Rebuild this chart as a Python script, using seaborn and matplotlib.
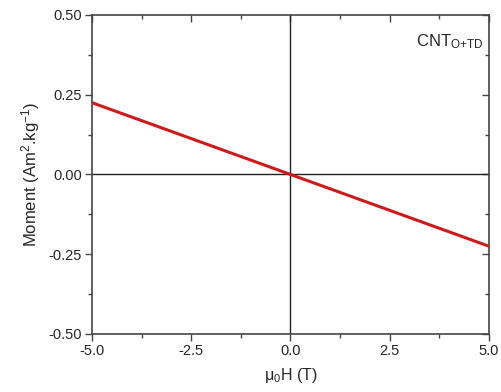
import matplotlib
matplotlib.use("Agg")
import matplotlib.pyplot as plt
import seaborn as sns
import pandas as pd
from matplotlib.ticker import MultipleLocator

# field (T) and moment (Am2/kg)
field = [-5.0, -2.5, 0.0, 2.5, 5.0]
moment = [0.225, 0.1125, 0.0, -0.1125, -0.225]

sns.set_style("ticks")
plt.rcParams['font.family'] = ['Liberation Sans', 'DejaVu Sans']
plt.rcParams['mathtext.fontset'] = 'custom'
plt.rcParams['mathtext.rm'] = 'Liberation Sans'
plt.rcParams['mathtext.it'] = 'Liberation Sans'
plt.rcParams['mathtext.default'] = 'regular'

df = pd.DataFrame({'H': field, 'M': moment})

fig = plt.figure(figsize=(5.02, 3.92), dpi=100)
ax = fig.add_axes([0.183, 0.148, 0.791, 0.814])

ax.axhline(0, color='#222222', lw=1.0, zorder=1)
ax.axvline(0, color='#222222', lw=1.0, zorder=1)
sns.lineplot(data=df, x='H', y='M', ax=ax, color='#d01a1a', lw=2.2, zorder=3)

ax.set_xlim(-5, 5)
ax.set_ylim(-0.5, 0.5)
ax.xaxis.set_major_locator(MultipleLocator(2.5))
ax.xaxis.set_minor_locator(MultipleLocator(1.25))
ax.yaxis.set_major_locator(MultipleLocator(0.25))
ax.yaxis.set_minor_locator(MultipleLocator(0.125))
ax.set_xticks(ax.get_xticks())
ax.set_xticklabels([f"{v:.1f}" for v in ax.get_xticks()])
ax.set_yticks(ax.get_yticks())
ax.set_yticklabels([f"{v:.2f}" for v in ax.get_yticks()])
ax.set_xlim(-5, 5)
ax.set_ylim(-0.5, 0.5)

for s in ax.spines.values():
    s.set_color('#444444')
    s.set_linewidth(1.2)

ax.tick_params(which='major', direction='out', length=5, width=1.0,
               color='#444444', labelsize=10.5, pad=2)
ax.tick_params(which='minor', direction='out', length=3, width=1.0, color='#444444')

# inward ticks on top and right
top = ax.secondary_xaxis('top')
top.xaxis.set_major_locator(MultipleLocator(2.5))
top.xaxis.set_minor_locator(MultipleLocator(1.25))
top.tick_params(which='both', direction='in', labeltop=False, color='#444444', width=1.0)
top.tick_params(which='major', length=5)
top.tick_params(which='minor', length=3)
right = ax.secondary_yaxis('right')
right.yaxis.set_major_locator(MultipleLocator(0.25))
right.yaxis.set_minor_locator(MultipleLocator(0.125))
right.tick_params(which='both', direction='in', labelright=False, color='#444444', width=1.0)
right.tick_params(which='major', length=5)
right.tick_params(which='minor', length=3)
top.spines['top'].set_visible(False)
right.spines['right'].set_visible(False)

ax.set_xlabel(r'$\mu_0$H (T)', fontsize=11.5, labelpad=6)
ax.set_ylabel(r'Moment (Am$^2$.kg$^{-1}$)', fontsize=12, labelpad=5)
ax.text(0.985, 0.915, r'CNT$_{O{+}TD}$', transform=ax.transAxes, ha='right', va='center',
        fontsize=12)

fig.savefig('out.png', dpi=100)
